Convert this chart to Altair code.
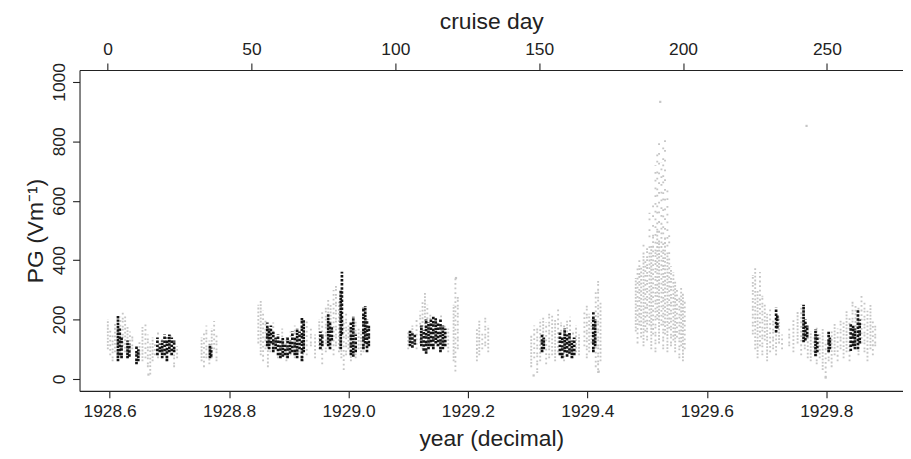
import altair as alt
import pandas as pd

# ---- grey observations: vertical streaks (year, low PG, high PG) ----
grey_year = [
    1928.597, 1928.601, 1928.605, 1928.609, 1928.613, 1928.618, 1928.622, 1928.626, 1928.630, 1928.634, 1928.638,
    1928.650, 1928.655, 1928.660, 1928.664, 1928.668, 1928.672, 1928.676, 1928.681, 1928.688, 1928.695, 1928.702, 1928.708, 1928.713,
    1928.754, 1928.758, 1928.762, 1928.767, 1928.771, 1928.775, 1928.779,
    1928.849, 1928.853, 1928.857, 1928.861, 1928.865, 1928.869, 1928.874,
    1928.882, 1928.889, 1928.896, 1928.903, 1928.910, 1928.917, 1928.924, 1928.930, 1928.937, 1928.944,
    1928.951, 1928.956, 1928.962, 1928.966, 1928.970, 1928.975, 1928.979, 1928.984, 1928.988, 1928.992, 1928.996, 1929.000,
    1929.004, 1929.008, 1929.012, 1929.017, 1929.021, 1929.025, 1929.030,
    1929.100, 1929.107, 1929.114, 1929.120, 1929.124, 1929.128, 1929.132, 1929.137, 1929.142, 1929.148, 1929.155, 1929.161, 1929.167,
    1929.176, 1929.179, 1929.183,
    1929.215, 1929.219, 1929.224, 1929.229, 1929.234,
    1929.306, 1929.311, 1929.316, 1929.321, 1929.326, 1929.331, 1929.336, 1929.341, 1929.346, 1929.351, 1929.356, 1929.361, 1929.366, 1929.371, 1929.376, 1929.381, 1929.386,
    1929.395, 1929.399, 1929.403, 1929.407,
    1929.414, 1929.418, 1929.422,
    1929.481, 1929.484, 1929.487, 1929.490, 1929.494, 1929.497, 1929.500, 1929.504, 1929.507, 1929.510, 1929.514, 1929.517, 1929.520,
    1929.524, 1929.527, 1929.530, 1929.534, 1929.537, 1929.540, 1929.544, 1929.547, 1929.550, 1929.554, 1929.557, 1929.560, 1929.563,
    1929.677, 1929.681, 1929.685, 1929.689, 1929.693, 1929.697, 1929.701, 1929.706, 1929.711, 1929.716, 1929.721, 1929.726,
    1929.738, 1929.745, 1929.752, 1929.758, 1929.764, 1929.769, 1929.774, 1929.779, 1929.784, 1929.789, 1929.794, 1929.799, 1929.804,
    1929.809, 1929.814, 1929.819, 1929.824, 1929.829, 1929.834, 1929.839, 1929.844, 1929.849, 1929.854, 1929.859, 1929.864, 1929.869,
    1929.874, 1929.878, 1929.882,
]
grey_lo = [
    100, 80, 60, 90, 70, 100, 110, 90, 70, 80, 100,
    80, 60, 70, 40, 15, 60, 80, 70, 90, 60, 80, 40, 70,
    60, 40, 70, 50, 70, 100, 60,
    120, 80, 60, 100, 40, 90, 110,
    70, 90, 60, 80, 70, 90, 60, 80, 110, 70,
    100, 50, 90, 120, 100, 80, 110, 90, 70, 30, 80, 100,
    60, 90, 70, 100, 80, 90, 110,
    100, 110, 100, 120, 100, 140, 110, 120, 100, 110, 100, 110, 90,
    60, 25, 100,
    60, 80, 100, 110, 90,
    40, 70, 20, 60, 90, 50, 70, 80, 60, 90, 70, 60, 80, 100, 70, 90, 80,
    110, 70, 90, 120,
    40, 20, 60,
    160, 120, 180, 140, 110, 160, 130, 180, 100, 150, 90, 200, 120,
    180, 100, 150, 90, 170, 110, 130, 90, 140, 70, 110, 60, 100,
    150, 100, 70, 110, 80, 130, 60, 90, 100, 80, 120, 100,
    110, 90, 120, 80, 100, 70, 60, 90, 50, 70, 30, 5, 60,
    40, 80, 60, 100, 70, 90, 60, 110, 100, 80, 120, 90, 60,
    100, 80, 110,
]
grey_hi = [
    200, 170, 150, 190, 160, 210, 225, 215, 180, 160, 150,
    130, 175, 190, 150, 120, 140, 120, 160, 140, 130, 150, 120, 110,
    140, 160, 180, 130, 170, 195, 150,
    250, 265, 230, 200, 180, 160, 190,
    150, 170, 140, 160, 180, 150, 170, 200, 170, 150,
    200, 230, 240, 270, 250, 300, 320, 260, 240, 200, 220, 180,
    160, 190, 200, 170, 160, 180, 200,
    160, 180, 200, 230, 260, 290, 250, 220, 200, 190, 220, 190, 170,
    250, 340, 280,
    170, 200, 160, 215, 180,
    150, 180, 170, 200, 210, 190, 230, 220, 200, 240, 190, 180, 200, 210, 160, 180, 150,
    230, 250, 220, 200,
    300, 340, 260,
    340, 380, 400, 380, 420, 400, 440, 420, 450, 480, 430, 500, 460,
    520, 430, 470, 420, 400, 380, 360, 330, 300, 280, 310, 290, 260,
    350, 380, 300, 360, 280, 250, 220, 240, 200, 170, 210, 150,
    170, 200, 230, 250, 200, 180, 160, 140, 180, 150, 170, 130, 150,
    160, 190, 170, 200, 190, 230, 210, 270, 250, 240, 280, 260, 230,
    250, 200, 180,
]

# sparse upper part of the large event
sparse_year = [1929.494, 1929.504, 1929.510, 1929.514, 1929.517, 1929.520, 1929.524, 1929.527, 1929.530, 1929.534, 1929.537]
sparse_lo = [420, 420, 480, 430, 500, 460, 520, 430, 470, 420, 400]
sparse_hi = [470, 560, 600, 720, 760, 800, 730, 780, 810, 650, 500]

# isolated grey observations
grey_pt_year = [1929.522, 1929.767, 1928.665, 1929.180, 1929.310, 1929.419, 1929.799]
grey_pt_pg = [933, 852, 15, 340, 12, 25, 5]

# ---- black observations ----
black_year = [
    1928.614, 1928.617, 1928.620, 1928.630, 1928.633, 1928.645, 1928.648,
    1928.680, 1928.684, 1928.688, 1928.692, 1928.696, 1928.700, 1928.704, 1928.708,
    1928.768, 1928.770,
    1928.864, 1928.867, 1928.870, 1928.874, 1928.878, 1928.882, 1928.886, 1928.890, 1928.894, 1928.898,
    1928.902, 1928.906, 1928.910, 1928.914, 1928.918, 1928.922, 1928.925,
    1928.953, 1928.956, 1928.966, 1928.969, 1928.972, 1928.987, 1928.989,
    1929.004, 1929.008, 1929.012, 1929.025, 1929.028, 1929.031, 1929.034,
    1929.103, 1929.107, 1929.111,
    1929.122, 1929.126, 1929.130, 1929.134, 1929.138, 1929.142, 1929.146, 1929.150, 1929.154, 1929.158, 1929.162,
    1929.324, 1929.327,
    1929.354, 1929.358, 1929.362, 1929.366, 1929.370, 1929.374, 1929.378,
    1929.410, 1929.413,
    1929.716, 1929.718, 1929.762, 1929.765, 1929.768, 1929.782, 1929.785, 1929.804, 1929.806,
    1929.841, 1929.845, 1929.848, 1929.853, 1929.856,
]
black_lo = [
    60, 80, 70, 70, 75, 50, 60,
    80, 90, 70, 80, 60, 90, 80, 90,
    70, 75,
    110, 100, 120, 90, 100, 80, 70, 75, 80, 70,
    85, 90, 80, 70, 100, 60, 90,
    100, 110, 110, 100, 130, 100, 150,
    80, 75, 90, 100, 120, 90, 110,
    110, 105, 115,
    110, 95, 85, 100, 110, 100, 120, 110, 90, 100, 110,
    90, 100,
    80, 70, 90, 75, 85, 70, 80,
    90, 110,
    157, 170, 124, 130, 140, 77, 90, 90, 100,
    94, 110, 100, 100, 120,
]
black_hi = [
    215, 170, 140, 130, 120, 110, 100,
    140, 120, 130, 150, 140, 150, 140, 130,
    115, 105,
    190, 170, 180, 160, 140, 150, 130, 140, 120, 145,
    130, 160, 140, 170, 160, 210, 200,
    160, 150, 220, 190, 180, 300, 361,
    190, 210, 150, 240, 245, 200, 180,
    165, 160, 150,
    180, 165, 200, 190, 200, 210, 205, 190, 200, 180, 170,
    150, 140,
    160, 140, 170, 150, 160, 130, 140,
    225, 200,
    240, 220, 250, 200, 180, 167, 150, 160, 140,
    190, 180, 170, 234, 200,
]

# ---- axes ----
year_ticks = [1928.6, 1928.8, 1929.0, 1929.2, 1929.4, 1929.6, 1929.8]
day_ticks = [0, 50, 100, 150, 200, 250]
pg_ticks = [0, 200, 400, 600, 800, 1000]
year_domain = [1928.5496, 1929.9285]
day_domain = [-9.77, 276.45]
pg_domain = [-40, 1040]

grey_df = pd.DataFrame({"year": grey_year, "lo": grey_lo, "hi": grey_hi})
grey_df["pat"] = [str(i % 4) for i in range(len(grey_df))]
sparse_df = pd.DataFrame({"year": sparse_year, "lo": sparse_lo, "hi": sparse_hi})
sparse_df["pat"] = [str(i % 3) for i in range(len(sparse_df))]
grey_pts = pd.DataFrame({"year": grey_pt_year, "pg": grey_pt_pg})
black_df = pd.DataFrame({"year": black_year, "lo": black_lo, "hi": black_hi})
black_df["pat"] = [str(i % 3) for i in range(len(black_df))]
day_df = pd.DataFrame({"day": day_ticks})

FONT = "Liberation Sans"
AX = "#222222"
GREY = "#c6c6c6"
TITLE = 23

xscale = alt.Scale(domain=year_domain, nice=False, zero=False)
yscale = alt.Scale(domain=pg_domain, nice=False, zero=False)

xaxis = alt.Axis(values=year_ticks, format=".1f", title="year (decimal)", grid=False,
                 tickSize=7, labelPadding=5, titlePadding=7, labelFontSize=17.5, titleFontSize=TITLE)
yaxis = alt.Axis(values=pg_ticks, format="d", title="PG (Vm⁻¹)", grid=False, tickSize=7,
                 labelAngle=270, labelAlign="center", labelBaseline="bottom", labelPadding=4,
                 titlePadding=3, labelFontSize=17.5, titleFontSize=TITLE)

X = alt.X("year:Q", scale=xscale, axis=xaxis)

grey = alt.Chart(grey_df).mark_rule(color=GREY, strokeWidth=1.9).encode(
    x=X,
    y=alt.Y("lo:Q", scale=yscale, axis=yaxis),
    y2="hi:Q",
    strokeDash=alt.StrokeDash("pat:N", legend=None, scale=alt.Scale(
        domain=["0", "1", "2", "3"],
        range=[[1.8, 1.5], [1.8, 2.8], [1.8, 1.2, 1.8, 3.2], [1.8, 2.0]])),
)
sparse = alt.Chart(sparse_df).mark_rule(color=GREY, strokeWidth=1.9).encode(
    x=X,
    y=alt.Y("lo:Q", scale=yscale, axis=yaxis),
    y2="hi:Q",
    strokeDash=alt.StrokeDash("pat:N", legend=None, scale=alt.Scale(
        domain=["0", "1", "2"],
        range=[[1.8, 6.0], [1.8, 4.5, 1.8, 9.0], [1.8, 8.0]])),
)
grey_p = alt.Chart(grey_pts).mark_square(color=GREY, size=5, opacity=1).encode(
    x=X,
    y=alt.Y("pg:Q", scale=yscale, axis=yaxis),
)
black = alt.Chart(black_df).mark_rule(color="#141414", strokeWidth=2.7).encode(
    x=X,
    y=alt.Y("lo:Q", scale=yscale, axis=yaxis),
    y2="hi:Q",
    strokeDash=alt.StrokeDash("pat:N", legend=None, scale=alt.Scale(
        domain=["0", "1", "2"],
        range=[[2.5, 0.8], [2.5, 1.6], [2.5, 0.6, 2.5, 2.0]])),
)
top = alt.Chart(day_df).mark_point(opacity=0).encode(
    x=alt.X("day:Q", scale=alt.Scale(domain=day_domain, nice=False, zero=False),
            axis=alt.Axis(orient="top", values=day_ticks, title="cruise day", grid=False,
                          tickSize=7, labelPadding=5, titlePadding=7,
                          labelFontSize=17.5, titleFontSize=TITLE)),
)

data_layer = alt.layer(grey, sparse, grey_p, black).resolve_scale(strokeDash="independent")

chart = alt.layer(data_layer, top).resolve_scale(x="independent").properties(
    width=829, height=323,
    autosize=alt.AutoSizeParams(type="none"),
    padding={"left": 72, "top": 61, "right": 0, "bottom": 59},
).configure_view(strokeOpacity=0).configure_axis(
    labelFont=FONT, titleFont=FONT, labelColor=AX, titleColor=AX,
    domainColor=AX, tickColor=AX, domainWidth=1.1, tickWidth=1.1,
    titleFontWeight="normal",
)

chart.save("out.html", embed_options={"renderer": "svg", "actions": False})
